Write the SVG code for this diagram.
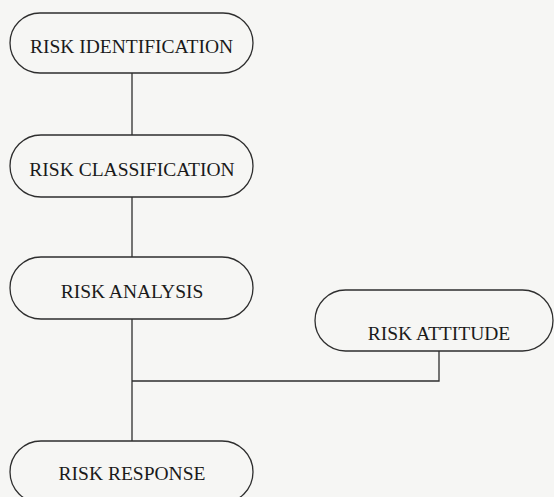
<svg xmlns="http://www.w3.org/2000/svg" width="554" height="497" viewBox="0 0 554 497">
  <style>
    .node rect { fill: none; stroke: #2e2e2e; stroke-width: 1.3; }
    .node text { font-family: "Liberation Serif", "Times New Roman", serif; font-size: 19.5px; fill: #1a1a1a; text-anchor: middle; }
    #connectors line, #connectors path { stroke: #2e2e2e; stroke-width: 1.3; fill: none; }
  </style>
  <rect x="0" y="0" width="554" height="497" fill="#f6f6f4"/>
  <g id="connectors">
    <line x1="132" y1="73" x2="132" y2="135"/>
    <line x1="132" y1="197" x2="132" y2="257"/>
    <line x1="132" y1="319" x2="132" y2="441"/>
    <path d="M132 381 H439 V351"/>
  </g>
  <g id="risk-identification" class="node">
    <rect x="10" y="13" width="243" height="60" rx="30" ry="30"/>
    <text x="131.5" y="53">RISK IDENTIFICATION</text>
  </g>
  <g id="risk-classification" class="node">
    <rect x="10" y="135" width="243" height="62" rx="31" ry="31"/>
    <text x="132" y="176">RISK CLASSIFICATION</text>
  </g>
  <g id="risk-analysis" class="node">
    <rect x="10" y="257" width="243" height="62" rx="31" ry="31"/>
    <text x="132" y="298">RISK ANALYSIS</text>
  </g>
  <g id="risk-attitude" class="node">
    <rect x="315" y="290" width="238" height="61" rx="30.5" ry="30.5"/>
    <text x="439" y="340">RISK ATTITUDE</text>
  </g>
  <g id="risk-response" class="node">
    <rect x="10" y="441" width="243" height="62" rx="31" ry="31"/>
    <text x="132" y="480">RISK RESPONSE</text>
  </g>
</svg>
